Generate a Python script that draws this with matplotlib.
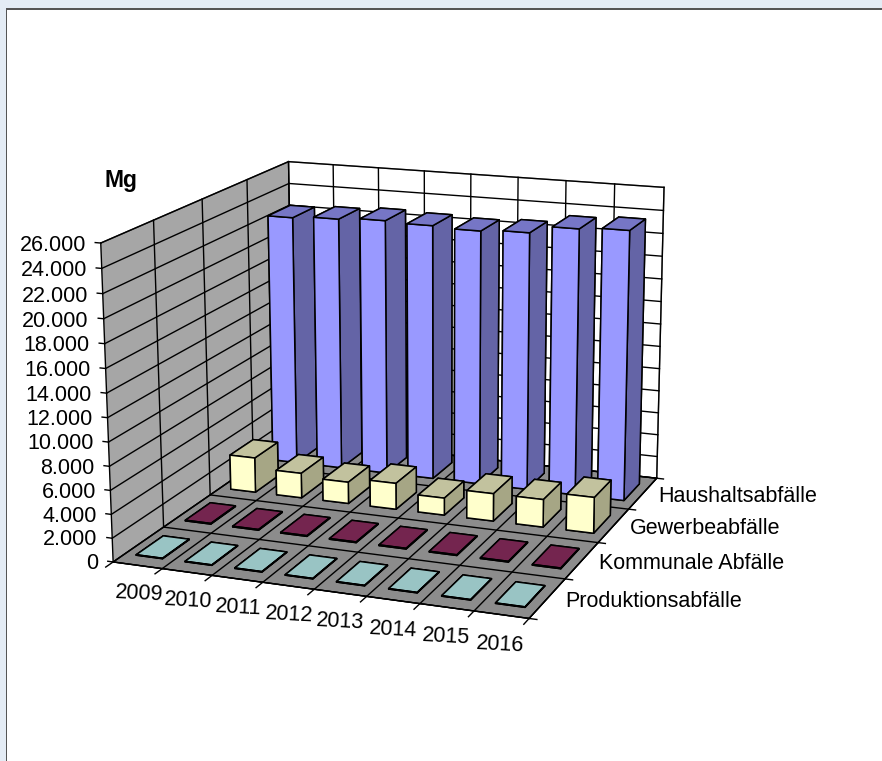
import matplotlib
matplotlib.use("Agg")
import matplotlib.pyplot as plt
from matplotlib.patches import Rectangle
from mpl_toolkits.mplot3d import proj3d

plt.rcParams["font.family"] = ["Liberation Sans", "DejaVu Sans"]

# ---------------------------------------------------------------------------
# Data (Mg per year)
# ---------------------------------------------------------------------------

years = ["2009", "2010", "2011", "2012", "2013", "2014", "2015", "2016"]
series_names = ["Produktionsabfälle", "Kommunale Abfälle", "Gewerbeabfälle", "Haushaltsabfälle"]

produktion = [40, 40, 40, 40, 40, 40, 40, 40]
kommunal = [60, 60, 60, 60, 60, 60, 60, 60]
gewerbe = [3100, 2200, 1900, 2300, 1500, 2400, 2400, 3100]
haushalt = [22460, 22650, 22830, 22710, 22570, 22740, 23400, 23590]

z_ticks = list(range(0, 26001, 2000))
z_labels = [f"{v:,}".replace(",", ".") for v in z_ticks]

# front, top and side shades per series
shades = [
    ("#CCFFFF", "#99C4C4", "#85A6A6"),
    ("#993366", "#74254F", "#632040"),
    ("#FFFFCC", "#C2C29E", "#A6A685"),
    ("#9999FF", "#7676C6", "#6464A6"),
]

# ---------------------------------------------------------------------------
# Figure and camera
# ---------------------------------------------------------------------------

fig = plt.figure(figsize=(8.82, 7.61), dpi=100, facecolor="white")
fig.patches.append(Rectangle((0, 752 / 761), 1, 9 / 761, transform=fig.transFigure, color="#E4ECF5", lw=0))
fig.patches.append(Rectangle((0, 0), 6 / 882, 1, transform=fig.transFigure, color="#E4ECF5", lw=0))
fig.patches.append(Rectangle((6 / 882, 751 / 761), 876 / 882, 1.5 / 761, transform=fig.transFigure, color="#555555", lw=0))
fig.patches.append(Rectangle((6 / 882, 0), 1.5 / 882, 752 / 761, transform=fig.transFigure, color="#555555", lw=0))

ax = fig.add_axes([56.7 / 882, 51.6 / 761, 663.7 / 882, 663.7 / 761], projection="3d")
ax.patch.set_alpha(0)
ax.computed_zorder = False
ax.set_xlim(0, 8, view_margin=0)
ax.set_ylim(0, 4, view_margin=0)
ax.set_zlim(0, 26000, view_margin=0)
ax.view_init(elev=15.559, azim=-68.658, roll=0.295)
ax.set_proj_type("persp", focal_length=0.6726)
ax.set_box_aspect((1, 1.0263, 0.7461))

ax.xaxis.set_pane_color("#A6A6A6")
ax.yaxis.set_pane_color("white")
ax.zaxis.set_pane_color("#8C8C8C")
ax.xaxis.pane.set_edgecolor("#333333")
ax.yaxis.pane.set_edgecolor("#888888")
ax.zaxis.pane.set_edgecolor("black")
ax.xaxis.line.set_color("black")
ax.yaxis.line.set_color("black")
ax.zaxis.line.set_color("#999999")

# native ticks sit on the wrong edges, so grid and labels are drawn below
ax.set_xticks([])
ax.set_yticks([])
ax.set_zticks([])


def label_at(x, y, z, text, **kwargs):
    """Put a flat text at the projected position of a 3D data point."""
    px, py, _ = proj3d.proj_transform(x, y, z, ax.get_proj())
    ax.text2D(px, py, text, transform=ax.transData, fontsize=15.5, va="center", **kwargs)


# ---------------------------------------------------------------------------
# Grid on floor and walls
# ---------------------------------------------------------------------------

z_top = z_ticks[-1]
for i in range(9):
    ax.plot([i, i], [0, 4], [0, 0], color="black", lw=1, zorder=4)
    ax.plot([i, i], [4, 4], [0, z_top], color="black", lw=1, zorder=4)
    ax.plot([i, i], [0, -0.14], [0, 0], color="black", lw=1, zorder=5)
for j in range(5):
    ax.plot([0, 8], [j, j], [0, 0], color="black", lw=1, zorder=4)
    ax.plot([0, 0], [j, j], [0, z_top], color="black", lw=1, zorder=4)
    ax.plot([8, 8.14], [j, j], [0, 0], color="black", lw=1, zorder=5)
for v in z_ticks:
    ax.plot([0, 0], [0, 4], [v, v], color="black", lw=1, zorder=4)
    ax.plot([0, 8], [4, 4], [v, v], color="black", lw=1, zorder=4)

# ---------------------------------------------------------------------------
# Bars, drawn back to front
# ---------------------------------------------------------------------------

order = 10
for row in [3, 2, 1, 0]:
    values = [produktion, kommunal, gewerbe, haushalt][row]
    front, top, side = shades[row]
    # bar3d face order: bottom, top, front, back, left, right
    faces = [top, top, front, front, side, side]
    for col, value in enumerate(values):
        ax.bar3d(
            col + 0.23, row + 0.23, 0, 0.54, 0.54, value,
            color=faces, shade=False, edgecolor="black", linewidth=1.1, zorder=order,
        )
        order += 1

# ---------------------------------------------------------------------------
# Labels
# ---------------------------------------------------------------------------

for v, label in zip(z_ticks, z_labels):
    ax.plot([-0.11, 0], [0, 0], [v, v], color="black", lw=1, zorder=5)
    label_at(-0.3, 0, v - 300, label, ha="right", color="black")

for i, year in enumerate(years):
    label_at(1.2 + i * 0.96, -0.63, 0, year, ha="center", rotation=-3)
for j, name in enumerate(series_names):
    label_at(8.32, j + 0.5, -100, name, ha="left")

fig.text(105 / 882, 1 - 181 / 761, "Mg", fontsize=16.5, fontweight="bold", va="center", ha="left")

fig.savefig("out.png", dpi=100)
